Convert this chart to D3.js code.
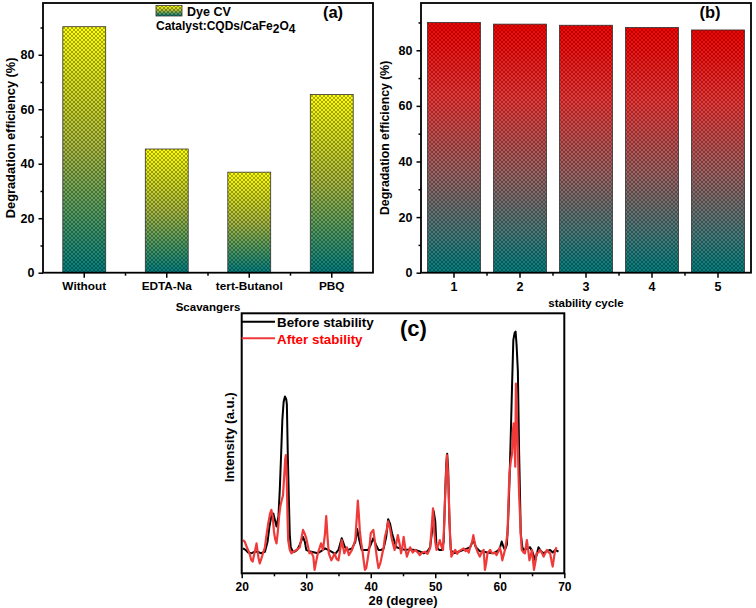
<!DOCTYPE html>
<html>
<head>
<meta charset="utf-8">
<script src="https://cdn.jsdelivr.net/npm/d3@7"></script>
<style>
  html, body { margin: 0; padding: 0; background: #fff; }
  svg { display: block; font-family: "Liberation Sans", Arial, sans-serif; font-weight: bold; }
</style>
</head>
<body>
<script>
// ---------------- DATA ----------------
const scavengerCats = ["Without", "EDTA-Na", "tert-Butanol", "PBQ"];
const scavengerVals = [90.3, 45.4, 36.9, 65.4];

const cycleCats = ["1", "2", "3", "4", "5"];
const cycleVals = [90.0, 89.4, 89.0, 88.2, 87.3];

const effTicks = [0, 20, 40, 60, 80];
const effMinorTicks = [10, 30, 50, 70, 90];

const thetaTicks = [20, 30, 40, 50, 60, 70];
const thetaMinorTicks = [25, 35, 45, 55, 65];

// XRD before stability (2θ, intensity a.u.)
const beforeTheta = [20.2,20.6,21.0,21.5,22.0,22.5,23.0,23.6,24.0,24.3,24.6,24.9,25.2,25.4,25.7,25.9,26.1,26.3,26.5,26.7,26.9,27.0,27.15,27.3,27.45,27.6,27.9,28.2,28.6,29.0,29.5,29.8,30.0,30.4,30.8,31.3,31.8,32.3,32.9,33.4,33.9,34.5,35.0,35.5,36.0,36.5,37.1,37.6,37.9,38.2,38.6,39.1,39.6,40.0,40.4,40.8,41.2,41.6,42.0,42.4,42.7,43.0,43.3,43.7,44.0,44.6,45.3,46.0,46.9,47.5,48.2,48.8,49.2,49.5,49.75,50.0,50.2,50.6,51.0,51.3,51.5,51.7,51.85,52.0,52.2,52.4,52.8,53.3,53.8,54.4,54.9,55.4,55.9,56.3,56.9,57.5,58.1,59.0,59.6,60.0,60.3,60.6,60.8,61.1,61.3,61.5,61.7,61.9,62.1,62.3,62.45,62.6,62.8,62.9,63.0,63.15,63.25,63.5,63.7,64.2,64.7,65.1,65.5,65.8,66.0,66.4,66.8,67.3,67.8,68.2,68.6,69.1];
const beforeInt = [9.6,9.0,8.0,7.7,8.3,8.3,7.7,8.3,12,18,22,23,20,18,22,32,45,59,66,68,67,65,45,29.5,15,10,8.5,8.3,9,11,14,12,9,8.5,8.3,8,7.7,8.5,9.6,9,8.3,7.5,9,13.5,10,9,9.6,12,17,13,9,9,9,11,13.5,11,9,9,9.5,14,20.8,19,15.4,12,10,9.5,9,9.2,9,8.5,7.7,8.5,10,16,24,20,10,9,9,12,28,42,46,40,20,9,7.7,8,8.5,9,9.5,10,12.8,10,8.5,8.3,8,7.7,8.5,9.5,12.2,10,9,11,20.5,35,52.6,72,89.7,92.5,93,88,78,62,46,28,15.4,10,9,9.5,10,8,5,8,10,8.5,7.7,8.5,9,8,9,8.3];

// XRD after stability (2θ, intensity a.u.)
const afterTheta = [20.2,20.5,20.8,21.2,21.5,21.7,22.0,22.3,22.6,22.8,23.1,23.3,23.6,23.8,24.1,24.4,24.6,24.8,25.0,25.2,25.4,25.6,25.8,26.0,26.2,26.4,26.6,26.75,26.85,27.0,27.1,27.2,27.45,27.7,28.1,28.5,29.0,29.3,29.5,29.8,30.0,30.3,30.5,30.8,31.1,31.3,31.5,31.8,32.1,32.3,32.6,32.9,33.1,33.3,33.5,33.9,34.2,34.4,34.7,35.0,35.2,35.5,35.9,36.3,36.6,37.1,37.6,37.85,38.0,38.15,38.3,38.5,38.7,38.9,39.1,39.3,39.5,39.8,40.0,40.4,40.6,40.8,41.0,41.2,41.5,41.7,42.0,42.2,42.5,42.7,43.0,43.3,43.7,44.0,44.2,44.5,44.7,44.9,45.1,45.4,45.6,46.1,46.5,46.9,47.3,47.6,48.0,48.4,48.8,49.2,49.45,49.65,49.85,50.0,50.2,50.5,50.7,51.0,51.2,51.4,51.55,51.8,52.0,52.15,52.3,52.5,52.8,53.1,53.4,53.6,54.0,54.4,54.7,54.9,55.2,55.4,55.7,55.9,56.1,56.3,56.6,56.9,57.2,57.5,57.7,57.9,58.1,58.5,58.8,59.2,59.5,59.8,60.0,60.2,60.4,60.6,60.8,61.0,61.2,61.35,61.5,61.7,61.9,62.05,62.15,62.3,62.4,62.5,62.6,62.7,62.8,62.9,63.0,63.1,63.25,63.4,63.7,63.9,64.2,64.4,64.6,64.8,65.0,65.15,65.3,65.5,65.7,66.0,66.2,66.5,66.8,67.1,67.3,67.6,67.8,68.0,68.2,68.4,68.6,68.8];
const afterInt = [12.8,12,10,7.7,5,4.5,8,11.5,6,3.8,6,7.7,10,14,19,23,24.4,22,16,13,11.5,16,22,26,28,30,38,44,45.5,35,22,12.8,9,7.7,8.5,9,10,14,16.7,15,13.5,10,7.7,8,6.4,1.3,4,7.7,10,11.5,9,15,22,14,7.7,5,6.5,7.7,5.5,5,8,12.8,7.7,10,7,9,12.8,22,28,23,16.7,12,9,5,1.3,2,5,10,15.4,16.7,13,9,5,2,4,6.4,10,14,17,20,17,12.8,9,12,14.7,11,7.7,10,14,9,6.4,10,8,9,8,7,8,8.3,7.5,9.6,18,25,16,12,9,11,12.8,10,9,20,30.8,45.5,37,25,14,6.4,8,9,7.5,8.3,9,9.6,8.5,9,8,10,12,14.7,12,10,8,6.4,8,9,1.3,4,7.7,9,7.7,8,7,8.5,10,8,5,7,9,12,15.4,28,38.5,43,46,55,57.7,48,41,73,65,56.4,48,38.5,30,24.4,15,9,8,7.7,12.8,9,5,7,9,5,1.3,4,7.7,8,9,8,6.4,8,9,8,7.7,5,2.6,6,9,10];

// ---------------- DRAW ----------------
const W = 756, H = 608;
const svg = d3.select("body").append("svg").attr("width", W).attr("height", H);
svg.append("rect").attr("width", W).attr("height", H).attr("fill", "#fff");

const defs = svg.append("defs");
const pat = defs.append("pattern").attr("id", "hatch")
  .attr("patternUnits", "userSpaceOnUse").attr("width", 4).attr("height", 4);
pat.append("path").attr("d", "M0,0L4,4M4,0L0,4")
  .attr("stroke", "#000").attr("stroke-width", 0.6).attr("stroke-opacity", 0.55).attr("fill", "none");

function grad(id, stops) {
  const g = defs.append("linearGradient").attr("id", id)
    .attr("x1", 0).attr("y1", 0).attr("x2", 0).attr("y2", 1);
  stops.forEach(s => g.append("stop").attr("offset", s[0]).attr("stop-color", s[1]));
}
grad("gradA", [[0, "#ffff00"], [0.5, "#a8b840"], [1, "#008080"]]);
grad("gradB", [[0, "#ff0000"], [0.3, "#f03838"], [0.6, "#9e6464"], [0.85, "#447c7c"], [1, "#008080"]]);

function barPanel(cfg) {
  const g = svg.append("g");
  const x = d3.scaleBand().domain(cfg.cats).range([cfg.x0, cfg.x1])
    .paddingInner(cfg.pad).paddingOuter(cfg.pad / 2);
  const y = d3.scaleLinear().domain([0, cfg.yMax]).range([cfg.y1, cfg.y0]);

  const bars = g.selectAll(".bar").data(cfg.vals).enter().append("g");
  bars.append("rect")
    .attr("x", (d, i) => x(cfg.cats[i])).attr("width", x.bandwidth())
    .attr("y", d => y(d)).attr("height", d => y(0) - y(d))
    .attr("fill", `url(#${cfg.grad})`);
  bars.append("rect")
    .attr("x", (d, i) => x(cfg.cats[i])).attr("width", x.bandwidth())
    .attr("y", d => y(d)).attr("height", d => y(0) - y(d))
    .attr("fill", "url(#hatch)").attr("stroke", "#333").attr("stroke-width", 0.8);

  // y axis
  const ya = g.append("g").attr("transform", `translate(${cfg.x0},0)`)
    .call(d3.axisLeft(y).tickValues(effTicks).tickSize(4.5).tickPadding(4));
  ya.select(".domain").remove();
  ya.selectAll("text").attr("font-size", 12.5).attr("font-weight", "bold").attr("fill", "#000");
  ya.selectAll("line").attr("stroke-width", 1.5);
  const ym = g.append("g").attr("transform", `translate(${cfg.x0},0)`)
    .call(d3.axisLeft(y).tickValues(effMinorTicks).tickSize(2.5).tickFormat(""));
  ym.select(".domain").remove();
  ym.selectAll("line").attr("stroke-width", 1.5);

  // x axis
  const xa = g.append("g").attr("transform", `translate(0,${cfg.y1})`)
    .call(d3.axisBottom(x).tickSize(5).tickPadding(4));
  xa.select(".domain").remove();
  xa.selectAll("text").attr("font-size", cfg.xFont).attr("font-weight", "bold").attr("fill", "#000");
  xa.selectAll("line").attr("stroke-width", 1.5);
  // minor ticks between categories
  const mids = cfg.cats.slice(0, -1).map(c => x(c) + x.bandwidth() / 2 + x.step() / 2);
  g.selectAll(".minor").data(mids).enter().append("line")
    .attr("x1", d => d).attr("x2", d => d).attr("y1", cfg.y1).attr("y2", cfg.y1 + 3)
    .attr("stroke", "#000").attr("stroke-width", 1.5);

  // frame
  g.append("rect").attr("x", cfg.x0).attr("y", cfg.y0)
    .attr("width", cfg.x1 - cfg.x0).attr("height", cfg.y1 - cfg.y0)
    .attr("fill", "none").attr("stroke", "#000").attr("stroke-width", 1.8);

  // titles
  g.append("text").attr("transform", `translate(${cfg.yTitleX},${(cfg.y0 + cfg.y1) / 2}) rotate(-90)`)
    .attr("text-anchor", "middle").attr("font-size", cfg.yTitleFont).text("Degradation efficiency (%)");
  g.append("text").attr("x", (cfg.x0 + cfg.x1) / 2).attr("y", cfg.xTitleY)
    .attr("text-anchor", "middle").attr("font-size", 11.5).text(cfg.xTitle);
  g.append("text").attr("x", cfg.labelX).attr("y", 17.5)
    .attr("text-anchor", "middle").attr("font-size", 16.5).text(cfg.label);
  return g;
}

const gA = barPanel({ cats: scavengerCats, vals: scavengerVals, x0: 43, x1: 373, y0: 3, y1: 272.7,
  yMax: 99, pad: 0.48, grad: "gradA", xFont: 11.8, yTitleX: 14.5, yTitleFont: 12.8,
  xTitle: "Scavangers", xTitleY: 311, label: "(a)", labelX: 333 });
const gB = barPanel({ cats: cycleCats, vals: cycleVals, x0: 421, x1: 751, y0: 3, y1: 272.7,
  yMax: 97, pad: 0.197, grad: "gradB", xFont: 12.5, yTitleX: 389, yTitleFont: 12.3,
  xTitle: "stability cycle", xTitleY: 307, label: "(b)", labelX: 710 });

// legend of (a)
gA.append("rect").attr("x", 156).attr("y", 5.5).attr("width", 26).attr("height", 10.5).attr("fill", "url(#gradA)");
gA.append("rect").attr("x", 156).attr("y", 5.5).attr("width", 26).attr("height", 10.5)
  .attr("fill", "url(#hatch)").attr("stroke", "#333").attr("stroke-width", 0.8);
gA.append("text").attr("x", 187).attr("y", 15.5).attr("font-size", 12.5).text("Dye CV");
const cat = gA.append("text").attr("x", 156).attr("y", 30).attr("font-size", 12);
cat.append("tspan").text("Catalyst:CQDs/CaFe");
cat.append("tspan").attr("dy", 3).attr("font-size", 12).text("2");
cat.append("tspan").attr("dy", -3).text("O");
cat.append("tspan").attr("dy", 3).attr("font-size", 12).text("4");

// ---------------- PANEL C (XRD) ----------------
const cx0 = 241.7, cx1 = 564.3, cy0 = 313.3, cy1 = 573.3;
const gC = svg.append("g");
const xs = d3.scaleLinear().domain([20, 70]).range([cx0, cx1]);
const ys = d3.scaleLinear().domain([0, 100]).range([cy1, cy0]);
const line = d3.line().x(d => xs(d[0])).y(d => ys(d[1]));

const beforeData = beforeTheta.map((t, i) => [t, beforeInt[i]]);
const afterData = afterTheta.map((t, i) => [t, afterInt[i]]);

gC.append("path").datum(beforeData).attr("d", line)
  .attr("fill", "none").attr("stroke", "#000").attr("stroke-width", 2).attr("stroke-linejoin", "round");
gC.append("path").datum(afterData).attr("d", line)
  .attr("fill", "none").attr("stroke", "#f03a3a").attr("stroke-width", 2.2).attr("stroke-linejoin", "round");

const xaC = gC.append("g").attr("transform", `translate(0,${cy1})`)
  .call(d3.axisBottom(xs).tickValues(thetaTicks).tickSize(5).tickPadding(4));
xaC.select(".domain").remove();
xaC.selectAll("text").attr("font-size", 12).attr("font-weight", "bold").attr("fill", "#000");
xaC.selectAll("line").attr("stroke-width", 1.5);
const xmC = gC.append("g").attr("transform", `translate(0,${cy1})`)
  .call(d3.axisBottom(xs).tickValues(thetaMinorTicks).tickSize(3).tickFormat(""));
xmC.select(".domain").remove();
xmC.selectAll("line").attr("stroke-width", 1.5);

gC.append("rect").attr("x", cx0).attr("y", cy0).attr("width", cx1 - cx0).attr("height", cy1 - cy0)
  .attr("fill", "none").attr("stroke", "#000").attr("stroke-width", 2);

gC.append("text").attr("x", (cx0 + cx1) / 2).attr("y", 604.5).attr("text-anchor", "middle")
  .attr("font-size", 13).text("2θ (degree)");
gC.append("text").attr("transform", `translate(233.5,${(cy0 + cy1) / 2 - 6}) rotate(-90)`)
  .attr("text-anchor", "middle").attr("font-size", 13.3).text("Intensity (a.u.)");

// legend
gC.append("line").attr("x1", cx0).attr("x2", 275).attr("y1", 321.7).attr("y2", 321.7)
  .attr("stroke", "#000").attr("stroke-width", 2);
gC.append("text").attr("x", 277).attr("y", 327).attr("font-size", 13.4).attr("fill", "#000").text("Before stability");
gC.append("line").attr("x1", cx0).attr("x2", 275).attr("y1", 338.3).attr("y2", 338.3)
  .attr("stroke", "#f03a3a").attr("stroke-width", 2);
gC.append("text").attr("x", 277).attr("y", 344).attr("font-size", 13.4).attr("fill", "#ff0000").text("After stability");
gC.append("text").attr("x", 413.5).attr("y", 335.5).attr("text-anchor", "middle").attr("font-size", 22).text("(c)");
</script>
</body>
</html>
